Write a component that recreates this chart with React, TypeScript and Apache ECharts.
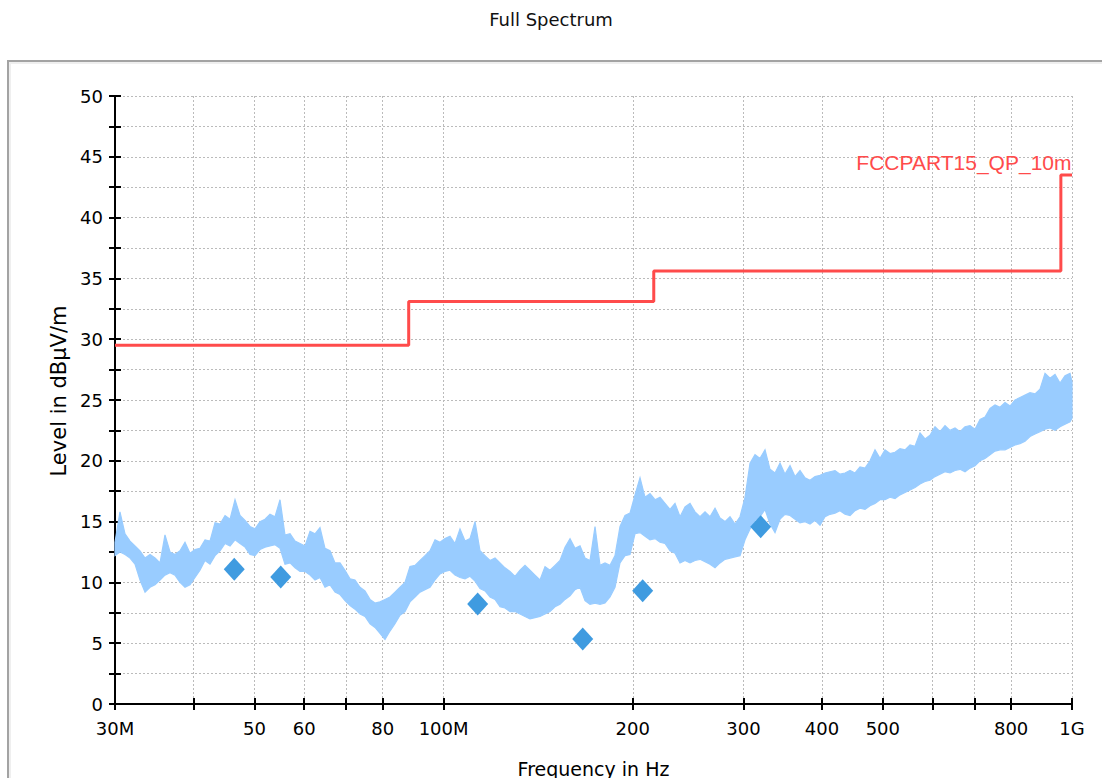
import React, { useEffect, useRef } from "react";
import * as echarts from "echarts";

// ---- Data ----
// Sweep frequencies (MHz) of the measured spectrum
const FREQ_MHZ = [
  30.0, 30.55, 31.12, 31.7, 32.28, 32.88, 33.49, 34.11, 34.74, 35.38,
  36.03, 36.7, 37.37, 38.07, 38.77, 39.49, 40.22, 40.96, 41.72, 42.49,
  43.28, 44.08, 44.9, 45.73, 46.57, 47.43, 48.31, 49.2, 50.11, 51.04,
  51.98, 52.94, 53.92, 54.92, 55.93, 56.97, 58.02, 59.09, 60.19, 61.3,
  62.43, 63.58, 64.76, 65.96, 67.18, 68.42, 69.68, 70.97, 72.28, 73.62,
  74.98, 76.37, 77.78, 79.22, 80.68, 82.17, 83.69, 85.24, 86.82, 88.42,
  90.06, 91.73, 93.42, 95.15, 96.91, 98.7, 100.52, 102.38, 104.28, 106.2,
  108.17, 110.17, 112.21, 114.28, 116.39, 118.55, 120.74, 122.97, 125.24, 127.56,
  129.91, 132.31, 134.76, 137.25, 139.79, 142.37, 145.01, 147.69, 150.42, 153.2,
  156.04, 158.93, 161.86, 164.86, 167.9, 171.01, 174.17, 177.39, 180.67, 184.01,
  187.41, 190.88, 194.4, 198.0, 201.66, 205.39, 209.19, 213.05, 216.99, 221.0,
  225.09, 229.25, 233.49, 237.81, 242.21, 246.69, 251.25, 255.89, 260.62, 265.44,
  270.35, 275.35, 280.44, 285.63, 290.91, 296.29, 301.77, 307.35, 313.03, 318.82,
  324.71, 330.71, 336.83, 343.06, 349.4, 355.86, 362.44, 369.14, 375.97, 382.92,
  390.0, 397.21, 404.56, 412.04, 419.65, 427.41, 435.32, 443.37, 451.56, 459.91,
  468.41, 477.07, 485.89, 494.88, 504.03, 513.35, 522.84, 532.51, 542.35, 552.38,
  562.59, 572.99, 583.59, 594.38, 605.37, 616.56, 627.96, 639.57, 651.4, 663.44,
  675.71, 688.2, 700.93, 713.89, 727.09, 740.53, 754.22, 768.17, 782.37, 796.84,
  811.57, 826.58, 841.86, 857.42, 873.28, 889.43, 905.87, 922.62, 939.68, 957.06,
  974.75, 992.77, 1000.0,
];

// Upper (peak) edge of the spectrum trace, dBµV/m
const PEAK_DB = [
  13.3, 15.8, 14.0, 13.4, 13.0, 12.6, 12.0, 12.3, 12.0, 11.6,
  13.9, 12.5, 12.3, 12.6, 13.3, 12.4, 12.7, 12.8, 13.5, 13.4,
  14.9, 14.8, 15.5, 15.2, 16.8, 15.5, 15.1, 14.6, 14.4, 15.0,
  15.2, 15.6, 15.4, 16.8, 13.9, 14.0, 13.4, 13.2, 13.0, 14.2,
  14.0, 14.5, 12.8, 12.6, 11.6, 11.6, 11.0, 10.3, 10.2, 9.6,
  9.3, 8.6, 8.3, 8.4, 8.6, 8.8, 9.2, 9.6, 10.0, 11.3,
  11.4, 11.8, 12.2, 12.6, 13.5, 13.3, 13.6, 13.8, 13.2, 14.4,
  13.4, 13.6, 15.0, 12.6, 12.2, 11.8, 12.0, 11.6, 11.2, 10.9,
  10.5, 11.0, 11.4, 11.0, 10.6, 10.2, 11.3, 11.0, 11.4, 11.8,
  12.9, 13.6, 12.8, 13.0, 12.0, 11.8, 14.6, 11.4, 11.6, 11.4,
  12.2, 14.6, 15.5, 15.7, 17.2, 18.6, 17.0, 17.3, 16.8, 17.0,
  16.5, 16.0, 16.5, 15.4, 16.2, 16.5, 15.8, 15.4, 15.8, 15.4,
  16.1, 15.3, 15.0, 15.4, 14.8, 15.4, 17.0, 19.8, 20.5, 20.2,
  20.9, 19.3, 19.0, 19.8, 18.9, 19.6, 18.7, 19.2, 18.6, 18.4,
  18.7, 18.8, 19.0, 19.1, 19.2, 18.9, 19.0, 19.2, 19.0, 19.5,
  19.4, 20.0, 20.9, 20.2, 20.9, 20.6, 20.7, 21.0, 20.9, 21.3,
  21.2, 22.3, 21.8, 22.1, 22.8, 22.4, 22.9, 22.5, 22.7, 22.4,
  22.8, 22.9, 22.6, 23.4, 23.6, 24.3, 24.6, 24.4, 24.8, 24.5,
  25.0, 25.2, 25.4, 25.6, 25.5, 25.9, 27.2, 26.8, 27.1, 26.4,
  27.0, 27.2, 26.5,
];

// Lower (floor) edge of the spectrum trace, dBµV/m
const FLOOR_DB = [
  12.2, 12.5, 12.3, 12.0, 11.5, 10.2, 9.2, 9.6, 9.8, 10.2,
  10.6, 10.8, 10.6, 10.0, 9.6, 9.8, 10.4, 11.0, 11.8, 11.5,
  12.2, 12.6, 13.2, 13.0, 13.5, 13.2, 12.9, 12.3, 12.2, 12.7,
  12.9, 13.0, 13.1, 12.8, 11.5, 11.6, 11.2, 10.9, 10.9, 10.6,
  10.2, 10.4, 9.6, 9.8, 9.2, 9.0, 8.5, 8.1, 7.8, 7.4,
  7.2, 6.6, 6.3, 5.8, 5.3, 6.0, 6.6, 7.3, 7.6, 8.4,
  8.8, 9.2, 9.4, 9.6, 10.2, 10.7, 10.9, 11.0, 10.6, 10.4,
  10.3, 10.5, 10.1, 9.5, 9.3, 8.8, 8.6, 8.0, 7.9, 7.6,
  7.6, 7.4, 7.2, 7.0, 7.1, 7.2, 7.4, 7.6, 8.0, 8.2,
  8.6, 8.9, 9.4, 9.6, 8.5, 8.2, 8.3, 8.2, 8.3, 8.8,
  9.6, 11.6, 12.2, 12.3, 14.0, 14.1, 13.8, 13.5, 13.6, 13.3,
  13.2, 12.6, 12.4, 11.6, 11.8, 11.6, 11.8, 11.9, 11.7, 11.5,
  11.2, 11.6, 11.9, 12.0, 12.1, 12.2, 13.5, 14.4, 15.1, 15.4,
  16.0, 14.8, 14.1, 15.2, 15.6, 15.5, 15.2, 14.9, 15.0, 14.8,
  15.1, 14.7, 15.4, 15.6, 15.7, 15.9, 15.6, 15.5, 15.9, 16.1,
  16.0, 16.3, 16.5, 16.8, 16.8, 17.0, 16.9, 17.2, 17.4, 17.6,
  17.8, 18.1, 18.3, 18.4, 18.7, 18.9, 19.1, 19.0, 19.2, 19.3,
  19.1, 19.4, 19.6, 20.0, 20.2, 20.5, 20.8, 20.9, 20.9, 21.1,
  21.3, 21.4, 21.6, 22.0, 22.2, 22.4, 22.6, 22.7, 22.5, 22.8,
  23.0, 23.2, 23.5,
];

// Limit line FCCPART15_QP_10m (step starts, MHz / dBµV/m)
const LIMIT_F = [30, 88, 216, 960, 1000];
const LIMIT_DB = [29.5, 33.1, 35.6, 43.5, 43.5];
const LIMIT_NAME = "FCCPART15_QP_10m";

// Final measurement points (diamonds)
const FINAL_F = [46.44, 55.06, 113.3, 166.5, 207.4, 319.6];
const FINAL_DB = [11.08, 10.44, 8.22, 5.35, 9.32, 14.58];

// Axis ticks / labels (MHz)
const X_TICKS = [30, 40, 50, 60, 70, 80, 100, 200, 300, 400, 500, 600, 700, 800, 1000];
const X_LABELS = [30, 50, 60, 80, 100, 200, 300, 400, 500, 800, 1000];
const X_LABEL_TEXT: Record<number, string> = { 30: "30M", 100: "100M", 1000: "1G" };

const TITLE = "Full Spectrum";
const X_NAME = "Frequency in Hz";
const Y_NAME = "Level in dBµV/m";

const FONT = "DejaVu Sans";
const lg = (f: number) => Math.log10(f);

export default function App() {
  const ref = useRef<HTMLDivElement>(null);
  useEffect(() => {
    if (!ref.current) return;
    const chart = echarts.init(ref.current, undefined, { renderer: "svg" });
    const xMin = lg(30);
    const xMax = lg(1000);
    const tickVals = X_TICKS.map(lg);
    const labelVals = X_LABELS.map(lg);
    const fmtX = (v: number) => {
      const f = Math.round(Math.pow(10, v));
      return X_LABEL_TEXT[f] ?? String(f);
    };
    const lx = FREQ_MHZ.map(lg);

    const option: any = {
      animation: false,
      backgroundColor: "#ffffff",
      title: {
        text: TITLE,
        left: "center",
        top: 5,
        textStyle: { fontFamily: FONT, fontSize: 18, fontWeight: "normal", color: "#111" },
      },
      graphic: [
        {
          type: "rect",
          silent: true,
          z: -10,
          shape: { x: 10, y: 63, width: 1200, height: 800 },
          style: { fill: "none", stroke: "#efefef", lineWidth: 2 },
        },
        {
          type: "rect",
          silent: true,
          z: -10,
          shape: { x: 8, y: 61, width: 1200, height: 800 },
          style: { fill: "none", stroke: "#a3a3a3", lineWidth: 2 },
        },
      ],
      grid: { left: 115, right: 30, top: 96, bottom: 74, outerBoundsMode: "none" },
      xAxis: [
        {
          type: "value",
          min: xMin,
          max: xMax,
          position: "bottom",
          name: X_NAME,
          nameLocation: "middle",
          nameGap: 55,
          nameTextStyle: { fontFamily: FONT, fontSize: 19, color: "#000" },
          axisLine: { show: true, lineStyle: { color: "#000", width: 2 } },
          axisTick: {
            show: true,
            customValues: tickVals,
            length: 6,
            lineStyle: { color: "#000", width: 2 },
          },
          axisLabel: {
            customValues: labelVals,
            formatter: fmtX,
            margin: 15,
            fontFamily: FONT,
            fontSize: 18,
            color: "#000",
          },
          splitLine: { show: true, lineStyle: { color: "#bbbbbb", width: 1, type: [2, 2] } },
        },
        {
          type: "value",
          min: xMin,
          max: xMax,
          position: "top",
          offset: -608,
          axisLine: { show: false },
          axisTick: {
            show: true,
            customValues: tickVals,
            length: 6,
            lineStyle: { color: "#000", width: 2 },
          },
          axisLabel: { show: false },
          splitLine: { show: false },
        },
      ],
      yAxis: [
        {
          type: "value",
          min: 0,
          max: 50,
          interval: 2.5,
          position: "left",
          name: Y_NAME,
          nameLocation: "middle",
          nameGap: 44,
          nameTextStyle: {
            fontFamily: FONT,
            fontSize: 21,
            color: "#000",
            padding: [0, 0, 0, 18],
          },
          axisLine: { show: true, lineStyle: { color: "#000", width: 2 } },
          axisTick: { show: true, length: 6, lineStyle: { color: "#000", width: 2 } },
          axisLabel: {
            formatter: (v: number) => (v % 5 === 0 ? String(v) : ""),
            margin: 12,
            fontFamily: FONT,
            fontSize: 18,
            color: "#000",
          },
          splitLine: { show: true, lineStyle: { color: "#bbbbbb", width: 1, type: [2, 2] } },
        },
        {
          type: "value",
          min: 0,
          max: 50,
          interval: 2.5,
          position: "right",
          offset: -957,
          axisLine: { show: false },
          axisTick: { show: true, length: 6, lineStyle: { color: "#000", width: 2 } },
          axisLabel: { show: false },
          splitLine: { show: false },
        },
      ],
      series: [
        {
          type: "custom",
          name: "Spectrum",
          xAxisIndex: 0,
          yAxisIndex: 0,
          silent: true,
          z: 1,
          data: [[lx[0], PEAK_DB[0]]],
          renderItem: (params: any, api: any) => {
            const pts: number[][] = [];
            for (let i = 0; i < lx.length; i++) pts.push(api.coord([lx[i], PEAK_DB[i]]));
            for (let i = lx.length - 1; i >= 0; i--) pts.push(api.coord([lx[i], FLOOR_DB[i]]));
            return {
              type: "polygon",
              shape: { points: pts },
              style: { fill: "#99ccff", stroke: "#99ccff", lineWidth: 1.2, lineJoin: "miter" },
            };
          },
        },
        {
          type: "line",
          name: LIMIT_NAME,
          step: "end",
          symbol: "none",
          z: 3,
          data: LIMIT_F.map((f, i) => [lg(f), LIMIT_DB[i]]),
          lineStyle: { color: "#ff4b4b", width: 3 },
          itemStyle: { color: "#ff4b4b" },
          markPoint: {
            symbol: "rect",
            symbolSize: 1,
            itemStyle: { color: "rgba(0,0,0,0)" },
            data: [
              {
                coord: [lg(LIMIT_F[LIMIT_F.length - 1]), LIMIT_DB[LIMIT_DB.length - 1]],
                label: {
                  show: true,
                  formatter: LIMIT_NAME,
                  position: [0, 0],
                  align: "right",
                  verticalAlign: "bottom",
                  offset: [0, -2],
                  color: "#ff4b4b",
                  fontFamily: "Liberation Sans",
                  fontSize: 21,
                },
              },
            ],
          },
        },
        {
          type: "scatter",
          name: "Final",
          symbol: "diamond",
          symbolSize: [21, 23],
          z: 4,
          itemStyle: { color: "#3f9be0", opacity: 1 },
          data: FINAL_F.map((f, i) => [lg(f), FINAL_DB[i]]),
        },
      ],
    };
    chart.setOption(option);
    return () => chart.dispose();
  }, []);

  return (
    <div
      ref={ref}
      style={{ position: "absolute", left: 0, top: 0, width: 1102, height: 778 }}
    />
  );
}
